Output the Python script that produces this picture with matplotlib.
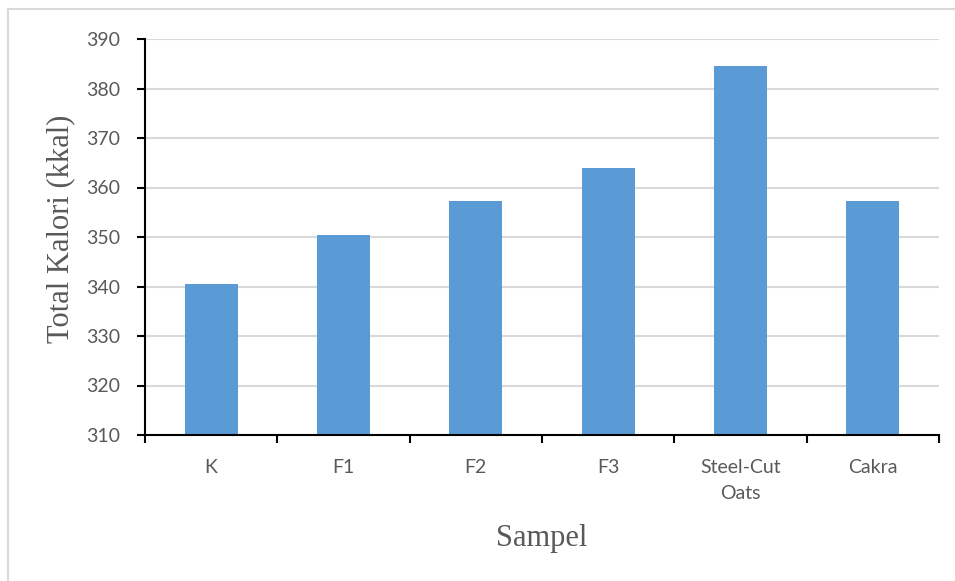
import matplotlib
matplotlib.use("Agg")
import matplotlib.pyplot as plt
from matplotlib.lines import Line2D

# Calorie totals per sample
categories = ["K", "F1", "F2", "F3", "Steel-Cut\nOats", "Cakra"]
total_kalori = [340.5, 350.5, 357.3, 364.0, 384.5, 357.2]
y_ticks = [310, 320, 330, 340, 350, 360, 370, 380, 390]

BAR_COLOR = "#5b9bd5"
GRID_COLOR = "#d9d9d9"
TEXT_COLOR = "#595959"

fig = plt.figure(figsize=(9.55, 5.81), dpi=100)
ax = fig.add_axes([145 / 955, 1 - 435 / 581, (939 - 145) / 955, (435 - 39) / 581])

x = list(range(len(categories)))
ax.bar(x, total_kalori, width=0.4, color=BAR_COLOR, zorder=3)

ax.set_xlim(-0.5, len(categories) - 0.5)
ax.set_ylim(310, 390)
ax.set_yticks(y_ticks)
ax.set_yticklabels([str(v) for v in y_ticks], fontfamily="Lato", fontsize=14, color=TEXT_COLOR)

# category ticks sit on the boundaries, labels centered under the bars
ax.set_xticks([i - 0.5 for i in range(len(categories) + 1)])
ax.set_xticklabels([])
ax.set_xticks(x, minor=True)
ax.set_xticklabels(categories, minor=True, fontfamily="Lato", fontsize=14,
                   color=TEXT_COLOR, linespacing=1.7)
ax.tick_params(axis="x", which="major", direction="out", length=6, width=1.5, color="black")
ax.tick_params(axis="x", which="minor", length=0, pad=17)
ax.tick_params(axis="y", direction="out", length=6, width=1.5, color="black", pad=12)

ax.grid(axis="y", color=GRID_COLOR, linewidth=1.5, zorder=0)
ax.set_axisbelow(True)
for side in ("top", "right"):
    ax.spines[side].set_visible(False)
for side in ("left", "bottom"):
    ax.spines[side].set_linewidth(1.5)
    ax.spines[side].set_color("black")
    ax.spines[side].set_zorder(4)

ax.set_ylabel("Total Kalori (kkal)", fontfamily="Liberation Serif", fontsize=22,
              color=TEXT_COLOR)
ax.yaxis.set_label_coords(-70 / 794, 0.52)
ax.set_xlabel("Sampel", fontfamily="Liberation Serif", fontsize=22,
              color=TEXT_COLOR)
ax.xaxis.set_label_coords(0.5, -(524 - 435) / 396)

# light chart-area frame
fig.add_artist(Line2D([8 / 955, 1.0], [1 - 9 / 581, 1 - 9 / 581],
                      transform=fig.transFigure, color=GRID_COLOR, linewidth=1.5))
fig.add_artist(Line2D([8 / 955, 8 / 955], [0.0, 1 - 9 / 581],
                      transform=fig.transFigure, color=GRID_COLOR, linewidth=1.5))

fig.savefig("out.png", dpi=100, facecolor="white")
